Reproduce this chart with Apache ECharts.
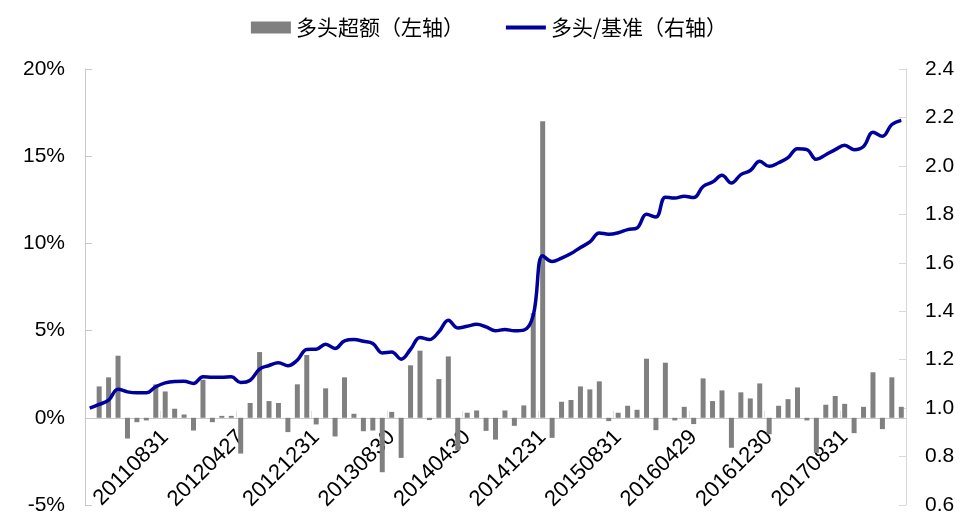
<!DOCTYPE html>
<html><head><meta charset="utf-8">
<script src="https://cdn.jsdelivr.net/npm/echarts@6/dist/echarts.min.js"></script>
<style>html,body{margin:0;padding:0;background:#fff}#c{width:978px;height:531px}</style>
</head><body><div id="c"></div>
<script>
const dates = [
'20101231',
'20110131','20110228','20110331','20110429','20110531','20110630','20110729','20110831','20110930','20111031','20111130','20111230',
'20120131','20120229','20120330','20120427','20120531','20120629','20120731','20120831','20120928','20121031','20121130','20121231',
'20130131','20130228','20130329','20130426','20130531','20130628','20130731','20130830','20130930','20131031','20131129','20131231',
'20140130','20140228','20140331','20140430','20140530','20140630','20140731','20140829','20140930','20141031','20141128','20141231',
'20150130','20150227','20150331','20150430','20150529','20150630','20150731','20150831','20150930','20151030','20151130','20151231',
'20160129','20160229','20160331','20160429','20160531','20160630','20160729','20160831','20160930','20161031','20161130','20161230',
'20170126','20170228','20170331','20170428','20170531','20170630','20170731','20170831','20170929','20171031','20171130','20171229',
'20180131','20180228'
];
// 多头超额 (%)
const excess = [
null, 1.80, 2.32, 3.56, -1.19, -0.25, -0.15, 1.92, 1.51, 0.52,
0.19, -0.73, 2.18, -0.25, 0.11, 0.11, -2.05, 0.85, 3.77, 0.96,
0.85, -0.82, 1.92, 3.60, -0.38, 1.69, -1.07, 2.32, 0.23, -0.77,
-0.73, -3.12, 0.34, -2.30, 3.01, 3.85, -0.13, 2.22, 3.52, -1.87,
0.29, 0.42, -0.75, -1.25, 0.42, -0.46, 0.71, 6.00, 17.0, -1.15,
0.92, 1.02, 1.80, 1.63, 2.09, -0.19, 0.29, 0.69, 0.46, 3.39,
-0.71, 3.16, -0.15, 0.63, -0.36, 2.26, 0.96, 1.57, -1.72, 1.46,
1.11, 1.97, -0.94, 0.69, 1.07, 1.74, -0.15, -2.01, 0.75, 1.25,
0.80, -0.88, 0.63, 2.61, -0.65, 2.32, 0.63
];
// 多头/基准
const ratio = [
1.000, 1.015, 1.033, 1.078, 1.067, 1.063, 1.063, 1.088, 1.104, 1.110,
1.111, 1.102, 1.129, 1.127, 1.127, 1.129, 1.106, 1.115, 1.161, 1.176,
1.187, 1.175, 1.198, 1.242, 1.243, 1.264, 1.246, 1.278, 1.283, 1.276,
1.267, 1.228, 1.232, 1.202, 1.243, 1.292, 1.283, 1.315, 1.363, 1.331,
1.338, 1.346, 1.335, 1.319, 1.325, 1.319, 1.322, 1.383, 1.629, 1.605,
1.619, 1.638, 1.663, 1.686, 1.723, 1.718, 1.724, 1.737, 1.744, 1.800,
1.789, 1.871, 1.867, 1.875, 1.869, 1.915, 1.933, 1.961, 1.929, 1.964,
1.981, 2.019, 1.998, 2.013, 2.034, 2.071, 2.067, 2.027, 2.046, 2.067,
2.085, 2.067, 2.080, 2.139, 2.122, 2.171, 2.188
];
const leftTicks = {min: -5, max: 20, interval: 5};
const rightTicks = {min: 0.6, max: 2.4, interval: 0.2};

const font = 'Liberation Sans, Arial, sans-serif';
const labelEvery = (i) => i % 8 === 0 && i > 0;
const lineColor = '#00009C';
const gridTop = 69, gridBottom = 26, H = 531;
const plotH = H - gridTop - gridBottom;
// shift the category axis up onto the 0% level of the left axis
const zeroShift = -plotH * (0 - leftTicks.min) / (leftTicks.max - leftTicks.min);
const chart = echarts.init(document.getElementById('c'), null, {renderer: 'canvas'});
chart.setOption({
  animation: false,
  legend: {
    top: 12, left: 'center', itemWidth: 40, itemHeight: 12, itemGap: 42,
    textStyle: {fontFamily: 'Noto Sans CJK SC', fontSize: 21, color: '#000'},
    data: [
      {name: '多头超额（左轴）', icon: 'rect'},
      {name: '多头/基准（右轴）', icon: 'path://M0,0 L40,0 L40,4 L0,4 Z', itemStyle: {color: lineColor}}
    ]
  },
  grid: {left: 85, right: 72, top: gridTop, bottom: gridBottom, containLabel: false, outerBoundsMode: 'none'},
  xAxis: {
    type: 'category', data: dates, boundaryGap: true, offset: zeroShift,
    axisLine: {onZero: false, lineStyle: {color: '#c8c8c8', width: 1}},
    axisTick: {show: true, inside: true, length: 7, interval: labelEvery, lineStyle: {color: '#e0e0e0'}},
    axisLabel: {interval: labelEvery, rotate: 45, margin: 16, fontSize: 22, fontFamily: font, color: '#000', hideOverlap: false}
  },
  yAxis: [{
    type: 'value', min: leftTicks.min, max: leftTicks.max, interval: leftTicks.interval,
    splitLine: {show: false},
    axisLine: {show: true, lineStyle: {color: '#c8c8c8'}},
    axisTick: {show: true, inside: true, length: 7, lineStyle: {color: '#c8c8c8'}},
    axisLabel: {formatter: '{value}%', margin: 20, fontSize: 21, fontFamily: font, color: '#000'}
  }, {
    type: 'value', min: rightTicks.min, max: rightTicks.max, interval: rightTicks.interval,
    splitLine: {show: false},
    axisLine: {show: true, lineStyle: {color: '#d8d8d8'}},
    axisTick: {show: true, inside: true, length: 7, lineStyle: {color: '#d8d8d8'}},
    axisLabel: {formatter: (v) => v.toFixed(1), margin: 19, fontSize: 21, fontFamily: font, color: '#000'}
  }],
  series: [{
    name: '多头超额（左轴）', type: 'bar', yAxisIndex: 0, data: excess,
    barWidth: 5, itemStyle: {color: '#808080'}
  }, {
    name: '多头/基准（右轴）', type: 'line', yAxisIndex: 1, data: ratio,
    symbol: 'none', smooth: 0.4, lineStyle: {color: lineColor, width: 3.5}, itemStyle: {color: lineColor}
  }]
});
</script>
</body></html>
